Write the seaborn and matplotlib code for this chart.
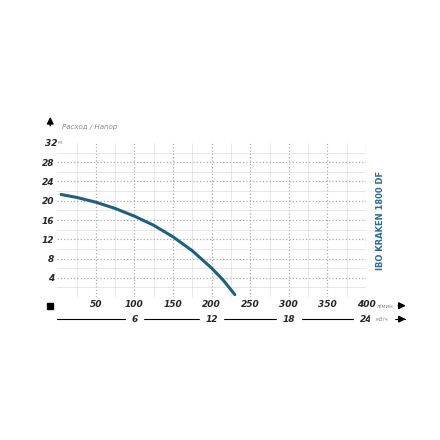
import numpy as np
import pandas as pd
import matplotlib.pyplot as plt
import seaborn as sns

# расход л/мин и напор м
flow = [5, 25, 50, 75, 100, 125, 150, 175, 200, 215, 230]
head = [21.3, 20.7, 19.7, 18.4, 16.8, 14.9, 12.5, 9.6, 6.0, 3.5, 0.5]
x_ticks = [50, 100, 150, 200, 250, 300, 350, 400]
y_ticks = [4, 8, 12, 16, 20, 24, 28]
m3h_ticks = [6, 12, 18, 24]

sns.set_style("white")
plt.rcParams['font.family'] = ['DejaVu Sans']

fig = plt.figure(figsize=(4.4, 4.4), dpi=100)
ax = fig.add_axes([0.13, 0.325, 0.702, 0.35])

df = pd.DataFrame({'flow': flow, 'head': head})
sns.lineplot(data=df, x='flow', y='head', ax=ax, color='#1f5f80', linewidth=2.2)

ax.set_xlim(0, 400)
ax.set_ylim(0, 32)
ax.set_xticks(x_ticks)
ax.set_yticks(y_ticks)
ax.set_xticks(np.arange(25, 400, 50), minor=True)
ax.set_yticks(np.arange(2, 32, 4), minor=True)
ax.grid(True, which='major', color='#aaaaaa', linestyle=':', linewidth=0.9)
ax.grid(True, which='minor', color='#dddddd', linestyle='-', linewidth=0.5)
for s in ax.spines.values():
    s.set_visible(False)
ax.tick_params(length=0, labelsize=6.5, pad=2)
for lab in ax.get_xticklabels() + ax.get_yticklabels():
    lab.set_fontweight('bold')
    lab.set_fontstyle('italic')
ax.set_xlabel('')
ax.set_ylabel('')

ax.text(0, 32, '32', ha='right', va='center',
        fontsize=6.5, fontweight='bold', fontstyle='italic')
ax.text(1, 32, 'м', ha='left', va='center', fontsize=4, color='#888888')
ax.text(414, -1.8, 'л/мин', ha='left', va='center', fontsize=4, color='#888888', clip_on=False)
ax.text(6, 35, 'Расход / Напор', fontsize=5, color='#888888', fontstyle='italic', clip_on=False)
ax.annotate('', xy=(-9, 38), xytext=(-9, 35), arrowprops=dict(arrowstyle='-|>', color='black', lw=1),
            annotation_clip=False)
ax.plot([-9], [-1.8], marker='s', color='black', markersize=5, clip_on=False)
ax.annotate('', xy=(455, -1.8), xytext=(438, -1.8), arrowprops=dict(arrowstyle='-|>', color='black', lw=1),
            annotation_clip=False)

# вторая шкала м3/ч
y2 = -4.6
ax.plot([0, 450], [y2, y2], color='black', lw=0.8, clip_on=False)
for v in m3h_ticks:
    xv = v / 0.06
    ax.text(xv, y2, str(v), ha='center', va='center', fontsize=6.5, fontweight='bold',
            fontstyle='italic', backgroundcolor='white', clip_on=False)
ax.text(412, y2, 'м3/ч', ha='left', va='center', fontsize=4, color='#888888',
        backgroundcolor='white', clip_on=False)
ax.annotate('', xy=(455, y2), xytext=(440, y2), arrowprops=dict(arrowstyle='-|>', color='black', lw=1),
            annotation_clip=False)

fig.text(0.865, 0.5, 'IBO KRAKEN 1800 DF', rotation=90, ha='center', va='center',
         fontsize=6, fontweight='bold', color='#2a6b96')

fig.savefig('out.png', dpi=100)
